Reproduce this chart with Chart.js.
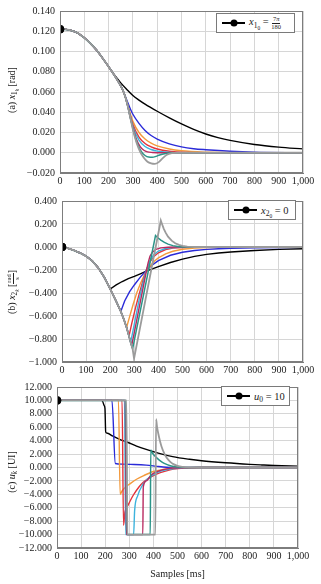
<!DOCTYPE html>
<html><head><meta charset="utf-8">
<script src="https://cdn.jsdelivr.net/npm/chart.js@4.4.1/dist/chart.umd.min.js"></script>
<style>
html,body{margin:0;padding:0;background:#fff;}
#wrap{position:relative;width:321px;height:584px;overflow:hidden;font-family:"Liberation Serif","DejaVu Serif",serif;color:#222;}
canvas{position:absolute;left:0;}
.ytitle{position:absolute;transform:translate(-50%,-50%) rotate(-90deg);white-space:nowrap;font-size:10px;line-height:1;}
.legend{position:absolute;background:#fff;border:1px solid #7a7a7a;box-sizing:border-box;font-size:10.5px;display:flex;align-items:center;white-space:nowrap;color:#222;}
.lg-line{position:relative;width:23px;height:1.6px;background:#000;margin:0 4px 0 5px;flex:none;}
.lg-line::after{content:"";position:absolute;left:50%;top:50%;width:7px;height:7px;border-radius:50%;background:#000;transform:translate(-50%,-50%);}
sub{font-size:72%;vertical-align:-0.3em;line-height:0;}
.frac{display:inline-flex;flex-direction:column;align-items:center;font-size:6.5px;line-height:1;vertical-align:middle;}
.frac .num{border-bottom:0.7px solid #222;padding:0 1px;}
</style></head>
<body>
<div id="wrap">
  <canvas id="c1" width="321" height="190" style="top:0px"></canvas>
  <canvas id="c2" width="321" height="186" style="top:190px"></canvas>
  <canvas id="c3" width="321" height="208" style="top:376px"></canvas>

  <div class="ytitle" style="left:12px;top:90px;">(a) <i>x</i><sub>1<sub><i>k</i></sub></sub> [rad]</div>
  <div class="ytitle" style="left:13px;top:292px;">(b) <i>x</i><sub>2<sub><i>k</i></sub></sub> [<span class="frac"><span class="num">rad</span><span>s</span></span>]</div>
  <div class="ytitle" style="left:12px;top:472px;">(c) <i>u</i><sub><i>k</i></sub> [UI]</div>

  <div class="legend" style="left:216px;top:13px;width:79px;height:20px;"><span class="lg-line"></span><span><i>x</i><sub>1<sub>0</sub></sub> = <span class="frac"><span class="num">7<i>π</i></span><span>180</span></span></span></div>
  <div class="legend" style="left:228px;top:200px;width:68px;height:20px;"><span class="lg-line"></span><span><i>x</i><sub>2<sub>0</sub></sub> = 0</span></div>
  <div class="legend" style="left:221px;top:386px;width:69px;height:20px;"><span class="lg-line"></span><span><i>u</i><sub>0</sub> = 10</span></div>
</div>
<script>
// ---------- tick values ----------
const sampleTicks = [0,100,200,300,400,500,600,700,800,900,1000];
const x1Ticks = [-0.02,0,0.02,0.04,0.06,0.08,0.1,0.12,0.14];
const x2Ticks = [-1,-0.8,-0.6,-0.4,-0.2,0,0.2,0.4];
const uTicks  = [-12,-10,-8,-6,-4,-2,0,2,4,6,8,10,12];

// ---------- (a) x1 [rad] : [sample, value] ----------
const x1Shared = [[0,0.122],[25,0.1218],[50,0.1205],[75,0.118],[100,0.1135],[125,0.108],[150,0.1015],[175,0.0935],[200,0.085],[225,0.076],[250,0.066],[260,0.061],[270,0.054],[280,0.045],[290,0.034]];
const x1Black   = [[210,0.0815],[225,0.0765],[250,0.069],[275,0.0625],[300,0.0565],[325,0.052],[350,0.048],[400,0.041],[450,0.0345],[500,0.0285],[550,0.023],[600,0.0185],[650,0.015],[700,0.0122],[800,0.0082],[900,0.0056],[1000,0.0038]];
const x1Blue    = [[260,0.061],[270,0.055],[280,0.049],[290,0.043],[300,0.038],[325,0.029],[350,0.022],[375,0.017],[400,0.0135],[450,0.0088],[500,0.0058],[550,0.004],[600,0.003],[700,0.0015],[800,0.0006],[1000,0]];
const x1Orange  = [[270,0.054],[280,0.046],[290,0.038],[300,0.031],[325,0.020],[350,0.0135],[375,0.0095],[400,0.0068],[450,0.0037],[500,0.002],[600,0.0006],[700,0.0001],[1000,0]];
const x1Red     = [[280,0.045],[290,0.036],[300,0.028],[325,0.0155],[350,0.0092],[375,0.0058],[400,0.0037],[450,0.0015],[500,0.0006],[600,0],[1000,0]];
const x1Cyan    = [[285,0.040],[300,0.026],[325,0.0125],[350,0.0062],[375,0.0032],[400,0.0016],[450,0.0004],[500,0],[1000,0]];
const x1Crimson = [[290,0.034],[300,0.025],[315,0.013],[330,0.006],[345,0.0025],[360,0.0009],[380,0.0003],[420,0],[1000,0]];
const x1Teal    = [[295,0.029],[305,0.019],[320,0.008],[335,0.001],[350,-0.0027],[365,-0.0043],[380,-0.0045],[395,-0.0036],[410,-0.0022],[430,-0.0009],[460,-0.0001],[500,0],[1000,0]];
const x1Gray    = [[300,0.023],[315,0.010],[330,0.001],[345,-0.005],[360,-0.0088],[375,-0.0105],[390,-0.011],[405,-0.0095],[420,-0.006],[440,-0.002],[460,-0.0004],[480,0],[1000,0]];

// ---------- (b) x2 [rad/s] ----------
const x2Shared = [[0,0],[25,-0.012],[50,-0.03],[75,-0.052],[100,-0.08],[125,-0.12],[150,-0.18],[175,-0.262],[200,-0.365],[222,-0.46],[244,-0.56],[256,-0.625],[268,-0.70],[278,-0.775],[285,-0.83],[289,-0.858],[293,-0.885],[299,-0.97]];
const x2Black   = [[200,-0.365],[225,-0.33],[250,-0.3],[275,-0.275],[300,-0.255],[325,-0.233],[350,-0.21],[375,-0.19],[400,-0.17],[450,-0.135],[500,-0.105],[550,-0.082],[600,-0.064],[650,-0.052],[700,-0.043],[800,-0.03],[900,-0.021],[1000,-0.015]];
const x2Blue    = [[244,-0.56],[260,-0.47],[280,-0.39],[300,-0.33],[325,-0.262],[350,-0.205],[375,-0.155],[400,-0.118],[450,-0.072],[500,-0.046],[550,-0.031],[600,-0.021],[650,-0.015],[700,-0.011],[800,-0.006],[1000,-0.002]];
const x2Orange  = [[268,-0.70],[280,-0.61],[295,-0.5],[310,-0.4],[325,-0.32],[340,-0.25],[355,-0.195],[370,-0.155],[385,-0.12],[400,-0.095],[430,-0.06],[460,-0.037],[500,-0.02],[550,-0.01],[600,-0.005],[700,0],[1000,0]];
const x2Red     = [[278,-0.775],[290,-0.66],[305,-0.53],[320,-0.41],[335,-0.3],[350,-0.2],[365,-0.13],[380,-0.085],[400,-0.05],[430,-0.022],[460,-0.01],[500,-0.004],[550,0],[1000,0]];
const x2Cyan    = [[285,-0.83],[300,-0.67],[320,-0.46],[335,-0.32],[350,-0.2],[365,-0.12],[380,-0.07],[400,-0.035],[430,-0.013],[460,-0.005],[500,0],[1000,0]];
const x2Crimson = [[289,-0.858],[305,-0.69],[320,-0.53],[335,-0.37],[350,-0.21],[357,-0.14],[365,-0.08],[375,-0.045],[390,-0.02],[410,-0.008],[440,-0.002],[480,0],[1000,0]];
const x2Teal    = [[293,-0.885],[388,0.1],[395,0.085],[410,0.06],[425,0.04],[440,0.025],[460,0.012],[480,0.005],[500,0.001],[530,0],[1000,0]];
const x2Gray    = [[299,-0.97],[410,0.23],[415,0.2],[422,0.16],[430,0.125],[440,0.09],[455,0.055],[470,0.033],[485,0.018],[500,0.009],[520,0.003],[550,0],[1000,0]];

// ---------- (c) u [UI] ----------
const uShared = [[0,10],[185,10]];
const uBlack   = [[185,10],[190,9.8],[195,9.3],[199,8.8],[202,5.3],[210,5.1],[230,4.7],[260,4.2],[290,3.8],[330,3.2],[370,2.7],[420,2.15],[480,1.62],[550,1.22],[600,1.0],[700,0.7],[800,0.47],[850,0.38],[900,0.3],[1000,0.2]];
const uBlue    = [[228,10],[242,0.6],[270,0.5],[320,0.45],[370,0.35],[410,0.2],[440,0.08],[470,0.02],[500,0],[1000,0]];
const uOrange  = [[255,10],[262,-4.0],[270,-3.5],[285,-2.9],[300,-2.5],[330,-1.75],[360,-1.2],[400,-0.6],[440,-0.3],[480,-0.12],[530,-0.04],[600,0],[1000,0]];
const uRed     = [[270,10],[276,-8.6],[282,-6.6],[295,-5.6],[317,-4.1],[340,-2.9],[358,-2.2],[385,-1.5],[413,-1.0],[450,-0.55],[483,-0.25],[530,-0.08],[600,0],[1000,0]];
const uCyan    = [[280,10],[285,-10],[318,-10],[322,-6.5],[335,-4.2],[355,-2.6],[375,-1.7],[400,-1.05],[430,-0.55],[470,-0.22],[520,-0.06],[580,0],[1000,0]];
const uCrimson = [[283,10],[288,-10],[356,-10],[358,-2.9],[370,-2.0],[390,-1.15],[410,-0.7],[440,-0.32],[480,-0.1],[530,-0.02],[580,0],[1000,0]];
const uTeal    = [[286,10],[291,-10],[387,-10],[389,2.6],[395,2.2],[405,1.75],[415,1.4],[430,0.95],[445,0.62],[470,0.27],[500,0.08],[540,0.01],[580,0],[1000,0]];
const uGray    = [[288,10],[292,-10],[408,-10],[411,7.2],[415,6.1],[420,5.1],[427,4.0],[434,3.1],[445,2.1],[455,1.45],[470,0.85],[483,0.5],[500,0.25],[520,0.1],[550,0.02],[600,0],[1000,0]];

// ---------- styles ----------
const seriesColors = ['#000000','#2a2ad8','#f39a3c','#e2323c','#3db3dd','#b8295f','#2b9488','#9b9b9b'];
const seriesWidths = [1.4,1.4,1.4,1.4,1.4,1.4,1.5,1.8];
const FONT = {family:'"Liberation Serif", "DejaVu Serif", serif', size:10};

function assemble(shared, tails){
  return tails.map(tail => shared.filter(p => p[0] < tail[0][0]).concat(tail).map(p => ({x:p[0], y:p[1]})));
}
const fmtY = v => (Math.abs(v) < 1e-9 ? 0 : v).toFixed(3).replace('-', '\u2212');
const fmtX = v => v.toLocaleString('en-US');

const boxPlugin = {
  id:'box',
  afterDraw(chart){
    const {ctx, chartArea:a} = chart;
    ctx.save();
    ctx.strokeStyle = '#7d7d7d'; ctx.lineWidth = 1;
    ctx.strokeRect(Math.round(a.left)+0.5, Math.round(a.top)+0.5, Math.round(a.right)-Math.round(a.left)-1, Math.round(a.bottom)-Math.round(a.top)-1);
    ctx.restore();
  }
};

function panel(id, shared, tails, yTicks, yW, padR, xH, xTitle, smooth){
  const lines = assemble(shared, tails);
  const datasets = lines.map((d, i) => ({
    data: d, borderColor: seriesColors[i], backgroundColor: seriesColors[i],
    borderWidth: seriesWidths[i], pointRadius: 0, fill: false, order: lines.length - i,
    cubicInterpolationMode: smooth ? 'monotone' : 'default'
  }));
  datasets.push({data:[lines[0][0]], showLine:false, pointRadius:4, pointBackgroundColor:'#000', pointBorderColor:'#000', order:0});
  new Chart(document.getElementById(id), {
    type:'line',
    data:{datasets},
    options:{
      responsive:false, animation:false, devicePixelRatio:1,
      layout:{padding:{top:6, right:padR, left:0, bottom:0}},
      plugins:{legend:{display:false}, tooltip:{enabled:false}},
      elements:{line:{tension:0}},
      scales:{
        x:{type:'linear', min:0, max:1000,
           afterBuildTicks: s => { s.ticks = sampleTicks.map(v => ({value:v})); },
           afterFit: s => { s.height = xH; },
           ticks:{callback: fmtX, font:FONT, color:'#222', padding:2, maxRotation:0, autoSkip:false},
           grid:{color:'#d6d6d6', drawTicks:false}, border:{color:'#7d7d7d'},
           title: xTitle ? {display:true, text:xTitle, font:FONT, color:'#222', padding:{top:4,bottom:4}} : {display:false}},
        y:{type:'linear', min:yTicks[0], max:yTicks[yTicks.length-1],
           afterBuildTicks: s => { s.ticks = yTicks.map(v => ({value:v})); },
           afterFit: s => { s.width = yW; },
           ticks:{callback: fmtY, font:FONT, color:'#222', padding:5, autoSkip:false},
           grid:{color:'#d6d6d6', drawTicks:false}, border:{color:'#7d7d7d'}}
      }
    },
    plugins:[boxPlugin]
  });
}

panel('c1', x1Shared, [x1Black,x1Blue,x1Orange,x1Red,x1Cyan,x1Crimson,x1Teal,x1Gray], x1Ticks, 60, 18, 17, null, true);
panel('c2', x2Shared, [x2Black,x2Blue,x2Orange,x2Red,x2Cyan,x2Crimson,x2Teal,x2Gray], x2Ticks, 62, 18, 14, null, false);
panel('c3', uShared,  [uBlack,uBlue,uOrange,uRed,uCyan,uCrimson,uTeal,uGray], uTicks, 57, 23, 36, 'Samples [ms]', true);
</script>
</body></html>
